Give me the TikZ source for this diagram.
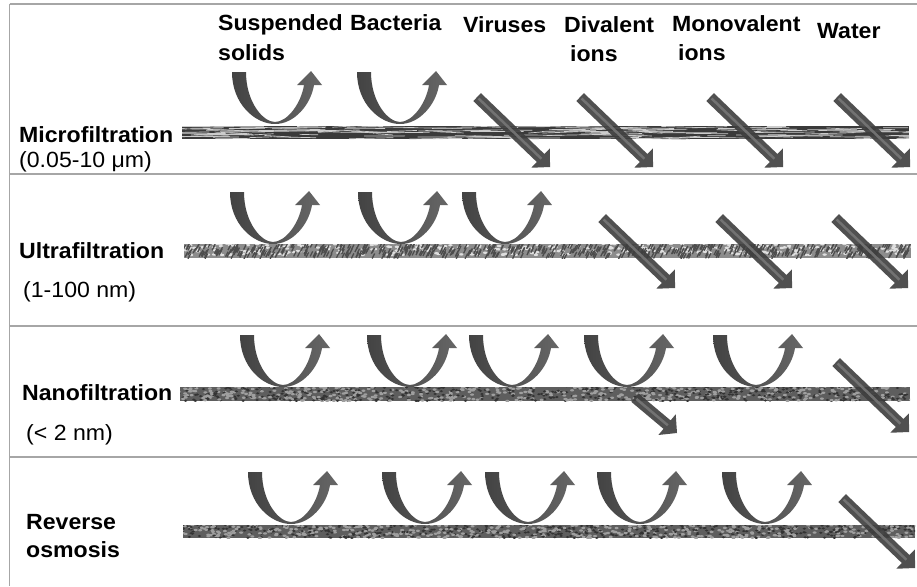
\documentclass[tikz,border=0pt]{standalone}
\usepackage{fontspec}
\setmainfont{Liberation Sans}[FakeStretch=1.05]
\definecolor{panelgray}{HTML}{A6A6A6}
\definecolor{uleft}{HTML}{434343}
\definecolor{uright}{HTML}{666666}
\definecolor{darrfill}{HTML}{3E3E3E}
\definecolor{darrlight}{HTML}{767676}
\definecolor{mfbase}{HTML}{3A3A3A}
\definecolor{ufbase}{HTML}{8C8C8C}
\definecolor{nfbase}{HTML}{5E5E5E}
\begin{document}
\begin{tikzpicture}[x=1pt,y=-1pt,
  lbl/.style={anchor=base west, inner sep=0pt, font=\fontsize{22}{26}\selectfont\bfseries},
  rng/.style={anchor=base west, inner sep=0pt, font=\fontsize{22}{26}\selectfont},
  panel/.style={draw=panelgray, line width=1.3pt},
  pics/uarr/.style={code={
    \shade[left color=uleft, right color=uright]
      (-43,-52) .. controls (-43,-20) and (-20,0) .. (0,0)
      .. controls (20,0) and (36,-20) .. (39,-39)
      -- (47,-39) -- (36,-53) -- (22,-39) -- (29,-39)
      .. controls (26,-20) and (12,-2) .. (0,-2)
      .. controls (-12,-2) and (-29,-22) .. (-29,-52) -- cycle;
  }},
  pics/darr/.style={code={
    \fill[darrfill, fill opacity=0.9] (-#1,5.5) -- (-13,5.5) -- (-13,13.5) -- (0,0)
      -- (-13,-13.5) -- (-13,-5.5) -- (-#1,-5.5) -- cycle;
    \draw[darrlight, line width=2.5pt, opacity=0.9] (-#1+2,0) -- (-12,0);
  }},
]
\useasboundingbox (0,0) rectangle (917,586);
\fill[white] (0,0) rectangle (917,586);

% panel lines
\draw[panel] (9.5,4) -- (917,4);
\draw[panel] (9.5,4) -- (9.5,586);
\draw[panel] (9.5,174) -- (917,174);
\draw[panel] (9.5,326) -- (917,326);
\draw[panel] (9.5,457) -- (917,457);

\pgfmathsetseed{42}
% Microfiltration membrane
\begin{scope}
\clip (182,126) rectangle (909,139);
\fill[mfbase] (182,126) rectangle (909,139);
\foreach \i in {1,...,170}{
  \pgfmathsetmacro{\ax}{165+745*rnd}
  \pgfmathsetmacro{\ay}{126+13*rnd}
  \pgfmathsetmacro{\al}{15+45*rnd}
  \pgfmathsetmacro{\ad}{3*rnd-1.5}
  \draw[white!60!gray, line width=0.7pt] (\ax,\ay) -- (\ax+\al,\ay+\ad);
}
\end{scope}
% Ultrafiltration membrane
\begin{scope}
\clip (184,244) rectangle (911,258);
\fill[ufbase] (184,244) rectangle (911,258);
\foreach \i in {1,...,380}{
  \pgfmathsetmacro{\cx}{180+735*rnd}
  \pgfmathsetmacro{\cy}{243+12*rnd}
  \fill[white!75!gray] (\cx,\cy) ellipse (2.2 and 1.2);
}
\foreach \i in {1,...,600}{
  \pgfmathsetmacro{\ax}{180+735*rnd}
  \pgfmathsetmacro{\ay}{242+12*rnd}
  \draw[black!70, line width=1.3pt] (\ax,\ay) -- (\ax-2.5,\ay+5);
}
\end{scope}
% Nanofiltration membrane
\begin{scope}
\clip (180,387) rectangle (910,401);
\fill[nfbase] (180,387) rectangle (910,401);
\foreach \i in {1,...,500}{
  \pgfmathsetmacro{\bx}{178+735*rnd}
  \pgfmathsetmacro{\by}{386+15*rnd}
  \fill[gray!75] (\bx,\by) ellipse (2 and 1.2);
  \pgfmathsetmacro{\ax}{178+735*rnd}
  \pgfmathsetmacro{\ay}{386+15*rnd}
  \fill[black!80] (\ax,\ay) ellipse (1.8 and 1.1);
}
\end{scope}
% Reverse osmosis membrane
\begin{scope}
\clip (183,525) rectangle (915,538);
\fill[nfbase] (183,525) rectangle (915,538);
\foreach \i in {1,...,500}{
  \pgfmathsetmacro{\bx}{180+738*rnd}
  \pgfmathsetmacro{\by}{524+14*rnd}
  \fill[gray!75] (\bx,\by) ellipse (2 and 1.2);
  \pgfmathsetmacro{\ax}{180+738*rnd}
  \pgfmathsetmacro{\ay}{524+14*rnd}
  \fill[black!80] (\ax,\ay) ellipse (1.8 and 1.1);
}
\end{scope}

% header labels
\node[lbl] (hss1) at (218,31) {Suspended};
\node[lbl] (hss2) at (218,60) {solids};
\node[lbl] (hbac) at (350,31) {Bacteria};
\node[lbl] (hvir) at (463,33) {Viruses};
\node[lbl] (hdiv1) at (564,33) {Divalent};
\node[lbl] (hdiv2) at (570,62) {ions};
\node[lbl] (hmon1) at (672,32) {Monovalent};
\node[lbl] (hmon2) at (678,60) {ions};
\node[lbl] (hwat) at (817,38) {Water};

% row labels
\node[lbl] (mf) at (19,142) {Microfiltration};
\node[rng] (mfr) at (19,167) {(0.05-10 μm)};
\node[lbl] (uf) at (19,258) {Ultrafiltration};
\node[rng] (ufr) at (23,297) {(1-100 nm)};
\node[lbl] (nf) at (22,400) {Nanofiltration};
\node[rng] (nfr) at (26,440) {(< 2 nm)};
\node[lbl] (ro1) at (26,529) {Reverse};
\node[lbl] (ro2) at (26,557) {osmosis};

% U-turn (rejected) arrows
\foreach \p in {(275,124),(400,124)} \pic at \p {uarr};
\foreach \p in {(273,244),(401,244),(505,244)} \pic at \p {uarr};
\foreach \p in {(283,387),(410,387),(512,387),(627,387),(756,387)} \pic at \p {uarr};
\foreach \p in {(291,524),(425,524),(528,524),(640,524),(765,524)} \pic at \p {uarr};

% diagonal (passing) arrows
\foreach \p in {(550,167),(653,167),(783,167),(910,167)} \pic[rotate=-43.8] at \p {darr=101};
\foreach \p in {(675,288),(792,288),(908,288)} \pic[rotate=-43.8] at \p {darr=101};
\pic[rotate=-40] at (677,433) {darr=55};
\pic[rotate=-43.8] at (909,432) {darr=101};
\pic[rotate=-43.8] at (915,568) {darr=101};
\end{tikzpicture}
\end{document}
